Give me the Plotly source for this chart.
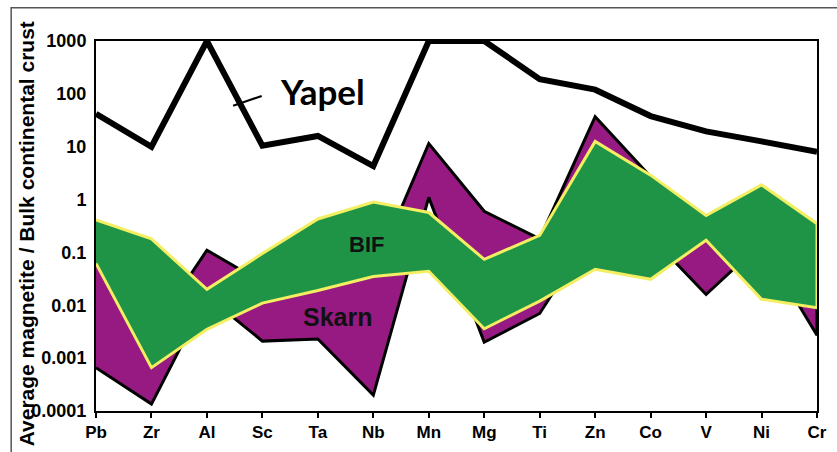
import plotly.graph_objects as go

# Elements normalised to bulk continental crust
elements = ["Pb", "Zr", "Al", "Sc", "Ta", "Nb", "Mn", "Mg", "Ti", "Zn", "Co", "V", "Ni", "Cr"]

# Yapel magnetite average
yapel = [42, 10, 1000, 10.5, 16, 4.3, 1000, 1000, 190, 120, 38, 19.5, 12.6, 8]

# BIF magnetite envelope (upper / lower bounds)
bif_hi = [0.41, 0.18, 0.02, 0.095, 0.43, 0.9, 0.57, 0.074, 0.21, 12.6, 2.9, 0.5, 1.9, 0.35]
bif_lo = [0.062, 0.00066, 0.0035, 0.011, 0.019, 0.035, 0.044, 0.0036, 0.012, 0.048, 0.031, 0.17, 0.013, 0.009]

# Skarn magnetite envelope (upper / lower bounds)
skarn_hi = [0.1, 0.003, 0.11, 0.027, 0.03, 0.04, 11.5, 0.6, 0.18, 37, 2.7, 0.3, 0.8, 0.1]
skarn_lo = [0.00066, 0.000135, 0.015, 0.0021, 0.0023, 0.0002, 1.1, 0.002, 0.007, 0.3, 0.2, 0.016, 0.15, 0.0027]

y_ticks = [1000, 100, 10, 1, 0.1, 0.01, 0.001, 0.0001]
y_tick_text = ["1000", "100", "10", "1", "0.1", "0.01", "0.001", "0.0001"]

idx = list(range(len(elements)))
ring = idx + idx[::-1]

W, H = 837, 452
L, R, T, B = 96, 10, 41, 34


def px(x):
    return (x - L) / (W - L - R)


def py(y):
    return (H - B - y) / (H - T - B)


FONT = "Liberation Sans, Arial, sans-serif"

fig = go.Figure()

fig.add_trace(go.Scatter(
    x=ring, y=skarn_hi + skarn_lo[::-1],
    fill="toself", fillcolor="#961a82",
    line=dict(color="black", width=3),
    mode="lines", hoverinfo="skip", showlegend=False,
))

fig.add_trace(go.Scatter(
    x=ring, y=bif_hi + bif_lo[::-1],
    fill="toself", fillcolor="#1f9446",
    line=dict(color="#f3ee62", width=3),
    mode="lines", hoverinfo="skip", showlegend=False,
))

fig.add_trace(go.Scatter(
    x=idx, y=yapel,
    line=dict(color="black", width=6),
    mode="lines", hoverinfo="skip", showlegend=False,
))

fig.update_xaxes(
    range=[0, len(elements) - 1],
    tickmode="array", tickvals=idx, ticktext=elements,
    ticks="outside", ticklen=5, tickwidth=2, tickcolor="black",
    tickfont=dict(family=FONT, size=17, color="black", weight="bold"),
    showline=True, mirror=True, linecolor="black", linewidth=2,
    showgrid=False, zeroline=False,
)

fig.update_yaxes(
    type="log", range=[-4, 3],
    tickmode="array", tickvals=y_ticks, ticktext=y_tick_text,
    ticks="", ticklabelstandoff=4,
    tickfont=dict(family=FONT, size=18, color="black", weight="bold"),
    showline=True, mirror=True, linecolor="black", linewidth=2,
    showgrid=False, zeroline=False,
)

shapes = [
    # outer frame
    dict(type="rect", xref="paper", yref="paper",
         x0=px(10), y0=py(470), x1=px(860), y1=py(7),
         line=dict(color="#555555", width=1.5), layer="below"),
    # leader line to the Yapel label
    dict(type="line", xref="paper", yref="paper",
         x0=px(235), y0=py(107), x1=px(264), y1=py(97),
         line=dict(color="black", width=2)),
]

annotations = [
    dict(text="Yapel", x=px(326), y=py(92), xref="paper", yref="paper",
         showarrow=False, xanchor="center", yanchor="middle",
         font=dict(family="Lato, Liberation Sans, sans-serif", size=35, color="black", weight="bold")),
    dict(text="BIF", x=px(370), y=py(248), xref="paper", yref="paper",
         showarrow=False, xanchor="center", yanchor="middle",
         font=dict(family=FONT, size=22, color="#111111", weight="bold")),
    dict(text="Skarn", x=px(341), y=py(322), xref="paper", yref="paper",
         showarrow=False, xanchor="center", yanchor="middle",
         font=dict(family=FONT, size=25, color="#111111", weight="bold")),
    dict(text="Average magnetite / Bulk continental crust",
         x=px(25), y=py(237), xref="paper", yref="paper",
         showarrow=False, xanchor="center", yanchor="middle", textangle=-90,
         font=dict(family=FONT, size=21, color="black", weight="bold")),
]

fig.update_layout(
    width=W, height=H,
    margin=dict(l=L, r=R, t=T, b=B),
    paper_bgcolor="white", plot_bgcolor="white",
    shapes=shapes, annotations=annotations,
)

fig.write_html("out.html")
